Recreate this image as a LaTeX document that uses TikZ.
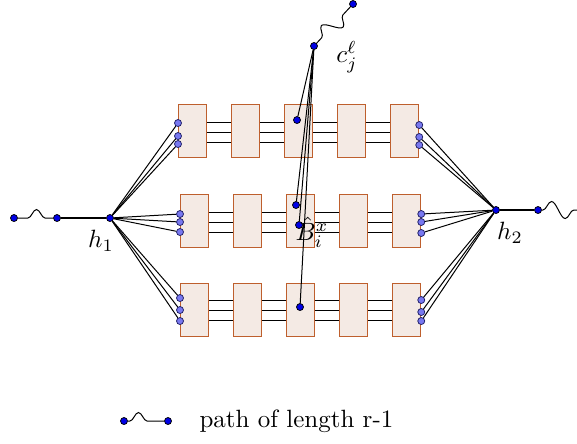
\documentclass[tikz,border=0pt]{standalone}
\usetikzlibrary{decorations.pathmorphing}
\definecolor{boxfill}{RGB}{244,234,228}
\definecolor{boxdraw}{RGB}{190,95,45}
\definecolor{dotblue}{RGB}{0,0,230}
\definecolor{dotlight}{RGB}{120,120,240}
\definecolor{dotedge}{RGB}{30,30,100}
\begin{document}
\begin{tikzpicture}[x=0.4pt,y=-0.4pt,
  bx/.style={rectangle, draw=boxdraw, fill=boxfill, line width=0.5pt, minimum width=11.2pt, minimum height=21.2pt, inner sep=0pt, anchor=north west},
  vtx/.style={circle, fill=dotblue, draw=black, line width=0.3pt, inner sep=0pt, minimum size=2.8pt},
  port/.style={circle, fill=dotlight, draw=dotedge, line width=0.3pt, inner sep=0pt, minimum size=2.8pt},
  ln/.style={line width=0.4pt},
  thk/.style={line width=0.8pt},
  snk/.style={decorate, decoration={snake, amplitude=3.4pt, segment length=11pt, #1}},
  lbl/.style={inner sep=0pt}
]
\useasboundingbox (0,0) rectangle (577,443);

% boxes
\foreach \r/\x/\y in {1/178/104, 2/180/194, 3/180/283}{
  \foreach \k in {0,...,4}{
    \node[bx] (b\r\k) at ({\x+53*\k},\y) {};
  }
}
% lines between boxes
\foreach \r/\ya/\yb/\yc in {1/122.5/132.7/142.7, 2/212/222.3/232.3, 3/300.3/310.3/320.7}{
  \foreach \k [evaluate=\k as \kk using int(\k+1)] in {0,...,3}{
    \draw[ln] (b\r\k.east |- 0,\ya) -- (b\r\kk.west |- 0,\ya);
    \draw[ln] (b\r\k.east |- 0,\yb) -- (b\r\kk.west |- 0,\yb);
    \draw[ln] (b\r\k.east |- 0,\yc) -- (b\r\kk.west |- 0,\yc);
  }
}

% main vertices
\node[vtx] (l0) at (14,218) {};
\node[vtx] (l1) at (57,218) {};
\node[vtx] (h1) at (110,218) {};
\node[vtx] (h2) at (496,210) {};
\node[vtx] (r1) at (538,210) {};
\coordinate (r0) at (577,210);
\node[vtx] (c) at (314,46) {};
\node[vtx] (ct) at (353,4) {};
\node[vtx] (d1) at (297,120) {};
\node[vtx] (d2a) at (296,205) {};
\node[vtx] (d2b) at (299,225) {};
\node[vtx] (d3) at (300,307) {};

% ports
\foreach \r/\i/\y in {1/1/123, 1/2/136, 1/3/144, 2/1/214, 2/2/222, 2/3/232, 3/1/298, 3/2/310, 3/3/321}{
  \node[port] (L\r\i) at (b\r0.west |- 0,\y) {};
  \draw[ln] (h1) -- (L\r\i);
}
\foreach \r/\i/\y in {1/1/125, 1/2/137, 1/3/145, 2/1/214, 2/2/222, 2/3/233, 3/1/300, 3/2/312, 3/3/321}{
  \node[port] (R\r\i) at (b\r4.east |- 0,\y) {};
  \draw[ln] (h2) -- (R\r\i);
}

% paths
\draw[thk] (l1) -- (h1);
\draw[thk] (h2) -- (r1);
\draw[ln, snk={pre length=4pt, post length=0pt}] (l0) -- (l1);
\draw[ln, snk={pre length=0.4pt, post length=0pt}] (r1) -- (r0);
\draw[ln, snk={pre length=3pt, post length=3pt}] (c) -- (ct);

% lines from c
\draw[ln] (c) -- (d1);
\draw[ln] (c) -- (d2a);
\draw[ln] (c) -- (d2b);
\draw[ln] (c) -- (d3);

% labels
\node[lbl] (t1) at (101,241) {$h_1$};
\node[lbl] (t2) at (510,233) {$h_2$};
\node[lbl] (tc) at (347,57) {$c_j^\ell$};
\node[lbl] (tb) at (312,232) {$\hat{B}_i^x$};

% legend
\node[vtx] (g1) at (124,421) {};
\node[vtx] (g2) at (168,421) {};
\draw[ln, snk={pre length=0.8pt, post length=3pt}] (g1) -- (g2);
\node[lbl, anchor=base west] (gt) at (199,427) {path of length r-1};
\end{tikzpicture}
\end{document}
